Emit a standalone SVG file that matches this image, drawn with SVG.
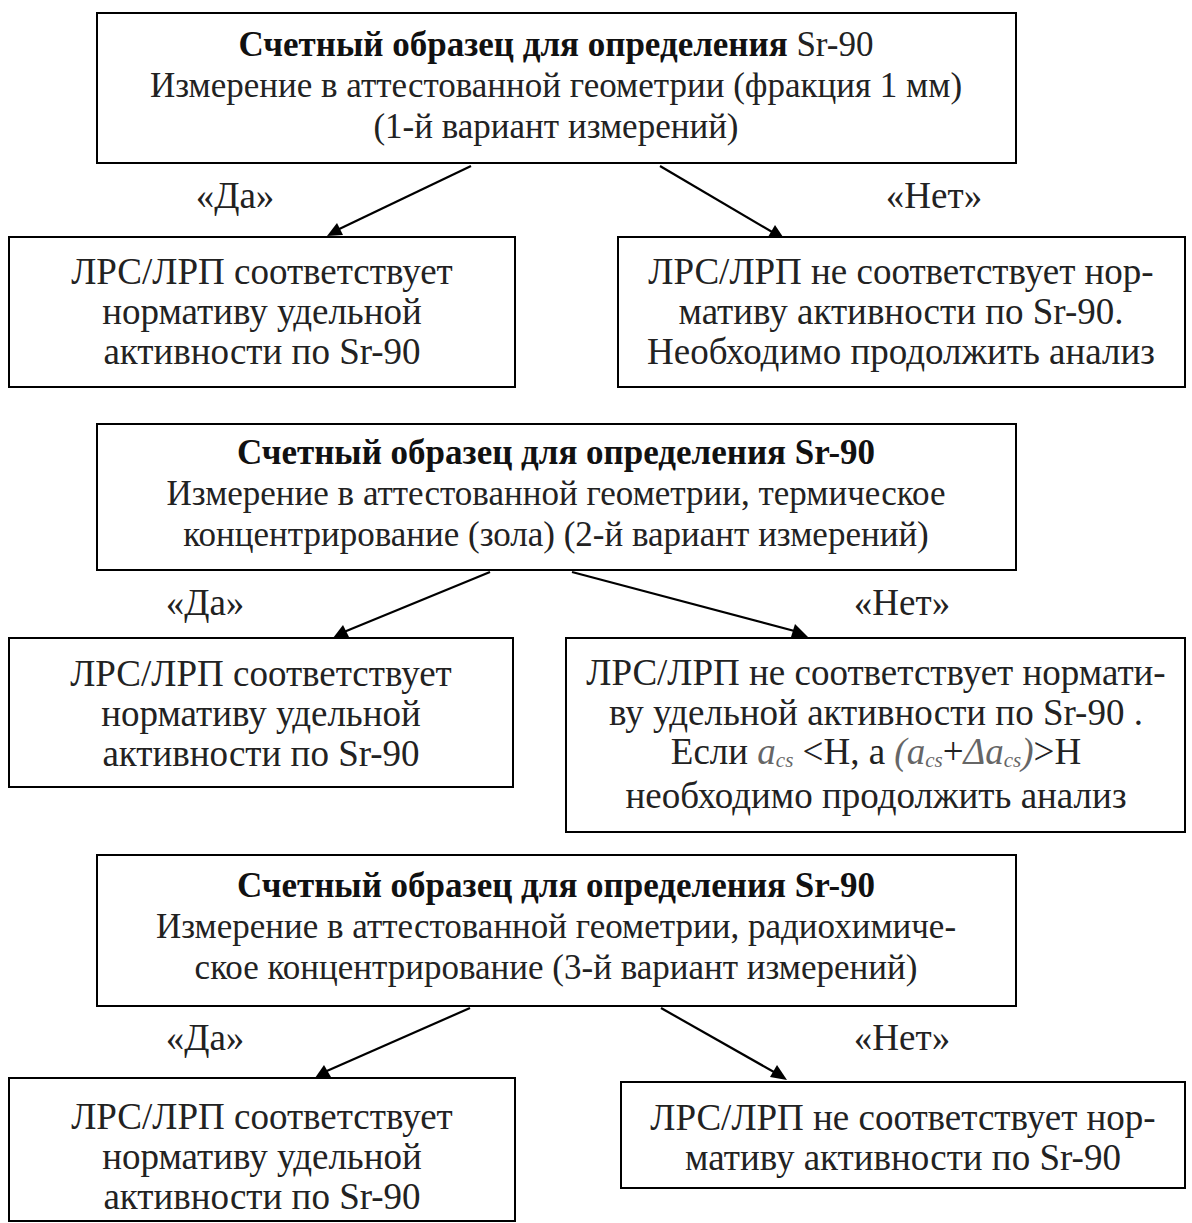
<svg xmlns="http://www.w3.org/2000/svg" width="1192" height="1223" viewBox="0 0 1192 1223">
<style>
.box{fill:#fff;stroke:#000;stroke-width:2}
text{font-family:"Liberation Serif","Times New Roman",serif;font-size:37px;fill:#222;text-anchor:middle}
.t{font-size:35px}
.b{font-weight:bold;fill:#111}
.ln{stroke:#000;stroke-width:2.2;fill:none}
.i{font-style:italic;fill:#666}
.s{font-size:21px;font-style:italic;fill:#666}
.ah{fill:#000}
</style>
<rect width="1192" height="1223" fill="#fff"/>
<g id="connectors">
<line class="ln" x1="471" y1="166" x2="333" y2="232"/>
<path class="ah" d="M327,236 L337,223 L343,235 z"/>
<line class="ln" x1="660" y1="166" x2="779" y2="236"/>
<path class="ah" d="M785,240 L768,237 L775,225 z"/>
<line class="ln" x1="490" y1="572" x2="339" y2="634"/>
<path class="ah" d="M333,638 L343,625 L349,637 z"/>
<line class="ln" x1="572" y1="572" x2="802" y2="633"/>
<path class="ah" d="M808,637 L791,637 L795,624 z"/>
<line class="ln" x1="470" y1="1008" x2="320" y2="1074"/>
<path class="ah" d="M315,1078 L324,1065 L331,1077 z"/>
<line class="ln" x1="661" y1="1008" x2="781" y2="1076"/>
<path class="ah" d="M787,1080 L770,1077 L777,1065 z"/>
<text x="235" y="208">«Да»</text>
<text x="934" y="208">«Нет»</text>
<text x="205" y="615">«Да»</text>
<text x="902" y="615">«Нет»</text>
<text x="205" y="1050">«Да»</text>
<text x="902" y="1050">«Нет»</text>
</g>
<g id="n1">
<rect class="box" x="97" y="13" width="919" height="150"/>
<text class="t" x="556" y="56"><tspan class="b">Счетный образец для определения</tspan> Sr-90</text>
<text class="t" x="556" y="97">Измерение в аттестованной геометрии (фракция 1 мм)</text>
<text class="t" x="556" y="138">(1-й вариант измерений)</text>
</g>
<g id="n2">
<rect class="box" x="9" y="237" width="506" height="150"/>
<text x="262" y="284">ЛРС/ЛРП соответствует</text>
<text x="262" y="324">нормативу удельной</text>
<text x="262" y="364">активности по Sr-90</text>
</g>
<g id="n3">
<rect class="box" x="618" y="237" width="567" height="150"/>
<text x="901" y="284">ЛРС/ЛРП не соответствует нор-</text>
<text x="901" y="324">мативу активности по Sr-90.</text>
<text x="901" y="364">Необходимо продолжить анализ</text>
</g>
<g id="n4">
<rect class="box" x="97" y="424" width="919" height="146"/>
<text class="t b" x="556" y="464">Счетный образец для определения Sr-90</text>
<text class="t" x="556" y="505">Измерение в аттестованной геометрии, термическое</text>
<text class="t" x="556" y="546">концентрирование (зола) (2-й вариант измерений)</text>
</g>
<g id="n5">
<rect class="box" x="9" y="638" width="504" height="149"/>
<text x="261" y="686">ЛРС/ЛРП соответствует</text>
<text x="261" y="726">нормативу удельной</text>
<text x="261" y="766">активности по Sr-90</text>
</g>
<g id="n6">
<rect class="box" x="566" y="638" width="619" height="194"/>
<text x="876" y="685">ЛРС/ЛРП не соответствует нормати-</text>
<text x="876" y="725">ву удельной активности по Sr-90 .</text>
<text x="876" y="764">Если <tspan class="i">a</tspan><tspan class="s" baseline-shift="-3">cs</tspan> &lt;Н, а <tspan class="i">(a</tspan><tspan class="s" baseline-shift="-3">cs</tspan>+<tspan class="i">Δa</tspan><tspan class="s" baseline-shift="-3">cs</tspan><tspan class="i">)</tspan>&gt;Н</text>
<text x="876" y="808">необходимо продолжить анализ</text>
</g>
<g id="n7">
<rect class="box" x="97" y="855" width="919" height="151"/>
<text class="t b" x="556" y="897">Счетный образец для определения Sr-90</text>
<text class="t" x="556" y="938">Измерение в аттестованной геометрии, радиохимиче-</text>
<text class="t" x="556" y="979">ское концентрирование (3-й вариант измерений)</text>
</g>
<g id="n8">
<rect class="box" x="9" y="1078" width="506" height="143"/>
<text x="262" y="1129">ЛРС/ЛРП соответствует</text>
<text x="262" y="1169">нормативу удельной</text>
<text x="262" y="1209">активности по Sr-90</text>
</g>
<g id="n9">
<rect class="box" x="621" y="1082" width="564" height="106"/>
<text x="903" y="1130">ЛРС/ЛРП не соответствует нор-</text>
<text x="903" y="1170">мативу активности по Sr-90</text>
</g>
</svg>
